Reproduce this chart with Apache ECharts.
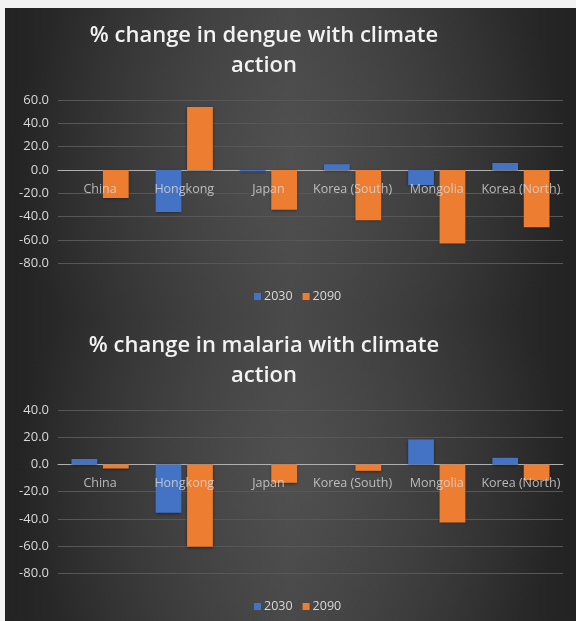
<!DOCTYPE html>
<html>
<head>
<meta charset="utf-8">
<script src="https://cdn.jsdelivr.net/npm/echarts@6/dist/echarts.min.js"></script>
<style>
  html, body { margin: 0; padding: 0; background: #f2f2f2; }
  #chart { width: 576px; height: 621px; }
</style>
</head>
<body>
<div id="chart"></div>
<script>
// Countries on the category axis
const countries = ['China', 'Hongkong', 'Japan', 'Korea (South)', 'Mongolia', 'Korea (North)'];
const seriesNames = ['2030', '2090'];

// % change in dengue with climate action
const dengue2030 = [0, -36, -1, 5, -13, 6];
const dengue2090 = [-24, 54, -34, -43, -63, -49];

// % change in malaria with climate action
const malaria2030 = [4, -35.5, 0, 0, 18.4, 4.9];
const malaria2090 = [-3, -60.5, -13.5, -4.7, -42.6, -11.5];

// Titles
const titleDengue = '% change in dengue with climate\naction';
const titleMalaria = '% change in malaria with climate\naction';

const BLUE = '#4472C4';
const ORANGE = '#ED7D31';
const TEXT = '#d9d9d9';
const FONT = '"Open Sans", "Liberation Sans", sans-serif';

const chart = echarts.init(document.getElementById('chart'));

// Dark panel: darker at the sides, lighter through the middle
const panelBase = {
  type: 'rect',
  z: -20,
  silent: true,
  shape: { x: 5, y: 8, width: 571, height: 613 },
  style: {
    fill: new echarts.graphic.LinearGradient(0, 0, 1, 0, [
      { offset: 0, color: '#222222' },
      { offset: 0.5, color: '#444444' },
      { offset: 1, color: '#222222' }
    ])
  }
};

function panelGlow(y, h) {
  return {
    type: 'rect',
    z: -10,
    silent: true,
    shape: { x: 5, y: y, width: 571, height: h },
    style: {
      fill: new echarts.graphic.RadialGradient(0.5, 0.5, 0.9, [
        { offset: 0, color: 'rgba(90,90,90,0.55)' },
        { offset: 1, color: 'rgba(90,90,90,0)' }
      ])
    }
  };
}

function titleText(text, y) {
  return {
    type: 'text',
    x: 264,
    y: y,
    z: 5,
    style: {
      text: text,
      fill: '#f2f2f2',
      font: '600 22px ' + FONT,
      align: 'center',
      verticalAlign: 'top',
      lineHeight: 30,
      shadowColor: 'rgba(0,0,0,0.6)',
      shadowBlur: 3,
      shadowOffsetY: 1
    }
  };
}

function xAxisCfg(gridIndex) {
  return {
    type: 'category',
    gridIndex: gridIndex,
    data: countries,
    axisTick: { show: false },
    axisLine: {
      onZero: true,
      onZeroAxisIndex: gridIndex,
      lineStyle: { color: '#b0b0b0', width: 1 }
    },
    // category names are drawn next to the zero line by the label series below
    axisLabel: { show: false },
    splitLine: { show: false }
  };
}

function yAxisCfg(gridIndex, min, max) {
  return {
    type: 'value',
    gridIndex: gridIndex,
    min: min,
    max: max,
    interval: 20,
    axisLine: { show: false },
    axisTick: { show: false },
    axisLabel: {
      color: TEXT, fontSize: 13, fontFamily: FONT, margin: 9,
      formatter: v => v.toFixed(1)
    },
    splitLine: { lineStyle: { color: '#575757', width: 1 } }
  };
}

function barSeries(name, data, color, idx) {
  return {
    name: name,
    type: 'bar',
    xAxisIndex: idx,
    yAxisIndex: idx,
    data: data,
    barGap: '22%',
    barCategoryGap: '32%',
    itemStyle: {
      color: color,
      shadowColor: 'rgba(0,0,0,0.45)',
      shadowBlur: 3,
      shadowOffsetY: 1
    }
  };
}

// Category names sitting just under the zero line, over the bars
function categoryLabels(idx) {
  return {
    name: 'categories',
    type: 'scatter',
    xAxisIndex: idx,
    yAxisIndex: idx,
    z: 10,
    symbolSize: 0,
    silent: true,
    data: countries.map(c => [c, 0]),
    label: {
      show: true,
      position: 'bottom',
      distance: 13,
      formatter: p => p.value[0],
      color: TEXT,
      fontSize: 12.5,
      fontFamily: FONT
    }
  };
}

function legendCfg(top) {
  return {
    top: top,
    left: 249,
    itemWidth: 7,
    itemHeight: 7,
    itemGap: 10,
    icon: 'rect',
    textStyle: { color: TEXT, fontSize: 12.5, fontFamily: FONT, padding: [0, 0, 0, -2] },
    data: seriesNames
  };
}

chart.setOption({
  animation: false,
  backgroundColor: 'transparent',
  graphic: [
    panelBase,
    panelGlow(8, 308),
    panelGlow(316, 305),
    titleText(titleDengue, 21),
    titleText(titleMalaria, 331)
  ],
  grid: [
    { left: 58, right: 13, top: 100, height: 163.3 },
    { left: 58, right: 13, top: 410, height: 163.3 }
  ],
  xAxis: [xAxisCfg(0), xAxisCfg(1)],
  yAxis: [yAxisCfg(0, -80, 60), yAxisCfg(1, -80, 40)],
  legend: [legendCfg(285), legendCfg(595)],
  series: [
    barSeries('2030', dengue2030, BLUE, 0),
    barSeries('2090', dengue2090, ORANGE, 0),
    barSeries('2030', malaria2030, BLUE, 1),
    barSeries('2090', malaria2090, ORANGE, 1),
    categoryLabels(0),
    categoryLabels(1)
  ]
});
</script>
</body>
</html>
